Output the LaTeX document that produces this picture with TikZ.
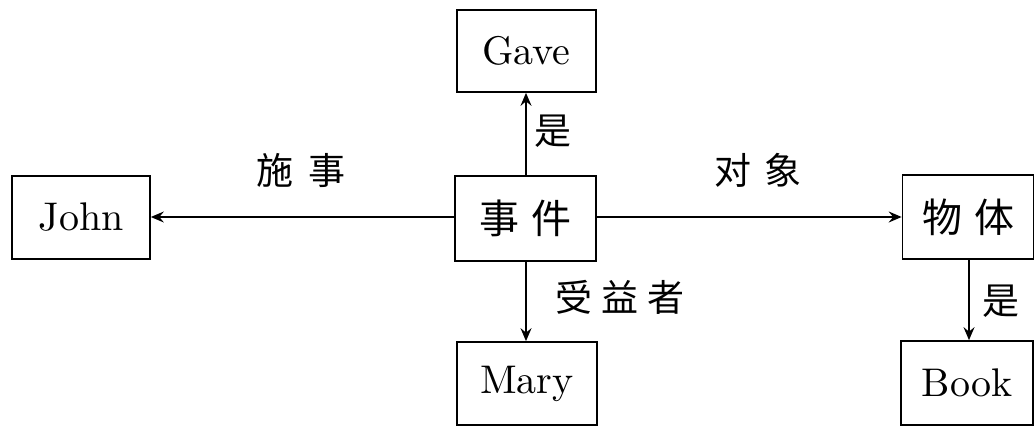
\documentclass[tikz,border=0pt]{standalone}
\usepackage{fontspec}
\newfontfamily\lmbig{lmroman10-regular.otf}
\newfontfamily\cjk{Noto Sans CJK SC}
\usetikzlibrary{arrows.meta}
\newcommand{\gp}{\hspace{12pt}}
\tikzset{
  box/.style={draw, line width=1.7pt, rectangle, inner sep=0pt, font=\lmbig\fontsize{40}{46}\selectfont},
  cbox/.style={box, font=\cjk\fontsize{40}{46}\selectfont},
  lbl/.style={font=\cjk\fontsize{37}{42}\selectfont, inner sep=0pt},
  arr/.style={line width=1.7pt, -{Stealth[length=13pt,width=11pt,inset=4.5pt]}}
}
\begin{document}
\begin{tikzpicture}[x=1pt,y=-1pt]
\useasboundingbox (0,0) rectangle (1035,428);
\node[box, minimum width=138pt, minimum height=83pt] (john) at (81,217.5) {John};
\node[box, minimum width=139pt, minimum height=82pt] (gave) at (526.5,51) {Gave};
\node[cbox, minimum width=141pt, minimum height=85pt] (event) at (525.5,218.5) {事\gp 件};
\node[box, minimum width=140pt, minimum height=83pt] (mary) at (527,383.5) {Mary};
\node[cbox, minimum width=131pt, minimum height=84pt] (obj) at (968,217) {物\gp 体};
\node[box, minimum width=132pt, minimum height=84pt] (book) at (967,383) {Book};
\draw[arr] (event.west |- 0,217) -- (john.east |- 0,217);
\draw[arr] (event.east |- 0,217) -- (obj.west |- 0,217);
\draw[arr] (event.north -| 526,0) -- (gave.south -| 526,0);
\draw[arr] (event.south -| 526,0) -- (mary.north -| 526,0);
\draw[arr] (obj.south -| 969,0) -- (book.north -| 969,0);
\node[lbl] (l1) at (301,170) {施\hspace{15pt}事};
\node[lbl] (l2) at (758,170) {对\hspace{13pt}象};
\node[lbl] (l3) at (553,131) {是};
\node[lbl] (l4) at (620,297) {受\hspace{9pt}益\hspace{9pt}者};
\node[lbl] (l5) at (1001,301) {是};
\end{tikzpicture}
\end{document}
